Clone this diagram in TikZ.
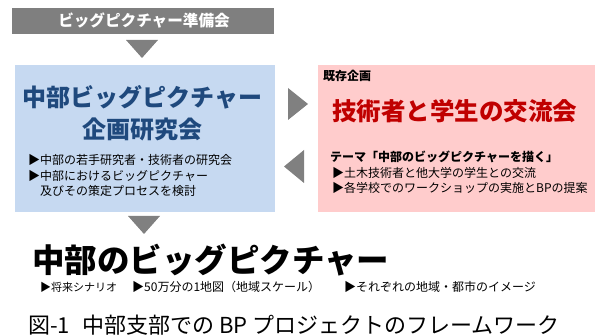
\documentclass[tikz,border=0pt]{standalone}
\usepackage{fontspec}
\setmainfont{Noto Sans CJK JP}
\definecolor{barGray}{HTML}{7F7F7F}
\definecolor{triGray}{HTML}{808080}
\definecolor{blueFill}{HTML}{C6D9F1}
\definecolor{blueText}{HTML}{1F497D}
\definecolor{pinkFill}{HTML}{FFCCCC}
\definecolor{redText}{HTML}{C00000}
\tikzset{
  fs/.style={font=\fontsize{#1}{#1}\selectfont},
  fsb/.style={font=\fontsize{#1}{#1}\selectfont\bfseries},
  txt/.style={inner sep=0pt, anchor=west},
  ctxt/.style={inner sep=0pt, anchor=center},
  panel/.style={draw=none, inner sep=0pt},
  tri/.style={fill=triGray, draw=none},
}
\begin{document}
\begin{tikzpicture}[x=1pt,y=-1pt]
\useasboundingbox (0,0) rectangle (598,336);
% top bar
\node[panel, fill=barGray, minimum width=262pt, minimum height=26pt] (prep) at (143,21) {};
\node[ctxt, fsb=15.6, text=white] (preptxt) at (144,21) {ビッグピクチャー準備会};
% boxes
\node[panel, fill=blueFill, minimum width=260pt, minimum height=147pt] (study) at (145,138.5) {};
\node[panel, fill=pinkFill, minimum width=277pt, minimum height=147pt] (exch) at (456.5,138.5) {};
% triangles
\coordinate (t1a) at (126,40); \coordinate (t1b) at (158,40); \coordinate (t1c) at (142,58);
\fill[tri] (t1a) -- (t1b) -- (t1c) -- cycle;
\coordinate (t2a) at (128,216); \coordinate (t2b) at (160,216); \coordinate (t2c) at (144,234);
\fill[tri] (t2a) -- (t2b) -- (t2c) -- cycle;
\coordinate (t3a) at (288,88); \coordinate (t3b) at (288,120); \coordinate (t3c) at (308,104);
\fill[tri] (t3a) -- (t3b) -- (t3c) -- cycle;
\coordinate (t4a) at (304,150); \coordinate (t4b) at (304,183); \coordinate (t4c) at (284,166.5);
\fill[tri] (t4a) -- (t4b) -- (t4c) -- cycle;
% blue box texts
\node[ctxt, fsb=24, text=blueText] (st1) at (142.5,97) {中部ビッグピクチャー};
\node[ctxt, fsb=24, text=blueText] (st2) at (142.5,129) {企画研究会};
\node[txt, fs=12] (sb1) at (28,160) {▶中部の若手研究者・技術者の研究会};
\node[txt, fs=12] (sb2) at (28,176) {▶中部におけるビッグピクチャー};
\node[txt, fs=12] (sb3) at (40,191) {及びその策定プロセスを検討};
% pink box texts
\node[txt, fsb=12] (ex0) at (323,76) {既存企画};
\node[ctxt, fsb=24.5, text=redText] (ex1) at (454.5,111) {技術者と学生の交流会};
\node[txt, fsb=12] (ex2) at (330,157) {テーマ「中部のビッグピクチャーを描く」};
\node[txt, fs=12] (ex3) at (332,173) {▶土木技術者と他大学の学生との交流};
\node[txt, fs=12] (ex4) at (332,188) {▶各学校でのワークショップの実施とBPの提案};
% bottom
\node[txt, fsb=32.5] (big) at (32,260) {中部のビッグピクチャー};
\node[txt, fs=11] (bb1) at (40,287) {▶将来シナリオ};
\node[txt, fs=12] (bb2) at (132,287) {▶50万分の1地図（地域スケール）};
\node[txt, fs=12] (bb3) at (344,287) {▶それぞれの地域・都市のイメージ};
\node[txt, fs=22] (cap) at (28,325) {図-1\hspace{12pt}中部支部での\hspace{5pt}BP\hspace{5pt}プロジェクトのフレームワーク};
\end{tikzpicture}
\end{document}
